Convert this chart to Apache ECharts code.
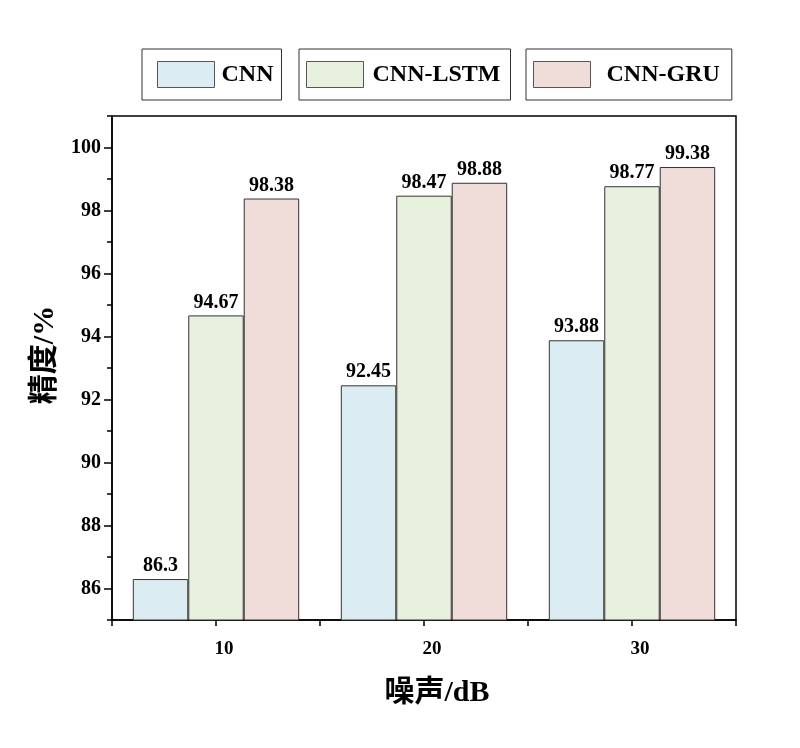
<!DOCTYPE html>
<html>
<head>
<meta charset="utf-8">
<script src="https://cdn.jsdelivr.net/npm/echarts@6/dist/echarts.min.js"></script>
<style>
  html, body { margin: 0; padding: 0; background: #fff; }
  #chart { width: 800px; height: 748px; }
</style>
</head>
<body>
<div id="chart"></div>
<script>
const categories = ['10', '20', '30']
const seriesNames = ['CNN', 'CNN-LSTM', 'CNN-GRU']
const cnn = [86.3, 92.45, 93.88]
const cnnLstm = [94.67, 98.47, 98.77]
const cnnGru = [98.38, 98.88, 99.38]
const yTicks = [86, 88, 90, 92, 94, 96, 98, 100]

const font = "'Liberation Serif', 'Noto Sans CJK SC', serif"
const colors = ['#dbedf3', '#e8f0de', '#f0dcd9']

const chart = echarts.init(document.getElementById('chart'))

function legendBox(name, left, pad, textPad) {
  return {
    data: [name],
    left: left,
    top: 49,
    icon: 'rect',
    itemWidth: 57,
    itemHeight: 26,
    itemGap: 0,
    padding: pad,
    borderColor: '#333',
    borderWidth: 1,
    borderRadius: 0,
    selectedMode: false,
    itemStyle: { borderColor: '#555', borderWidth: 1 },
    textStyle: {
      fontFamily: font,
      fontSize: 24,
      fontWeight: 'bold',
      color: '#000',
      padding: [0, 0, 0, textPad]
    }
  }
}

function barSeries(name, data, idx) {
  return {
    name: name,
    type: 'bar',
    data: data,
    xAxisIndex: 0,
    yAxisIndex: 0,
    barGap: '0%',
    barCategoryGap: '20%',
    itemStyle: {
      color: colors[idx],
      borderColor: '#333',
      borderWidth: 1
    },
    label: {
      show: true,
      position: 'top',
      distance: 3,
      fontFamily: font,
      fontSize: 20,
      fontWeight: 'bold',
      color: '#000'
    }
  }
}

chart.setOption({
  animation: false,
  color: colors,
  legend: [
    legendBox('CNN', 142, [12, 8, 12, 15], 2),
    legendBox('CNN-LSTM', 299, [12, 10, 12, 7], 4),
    legendBox('CNN-GRU', 526, [12, 12, 12, 7], 11)
  ],
  grid: {
    left: 112,
    right: 64,
    top: 116,
    bottom: 128,
    show: true,
    borderColor: '#000',
    borderWidth: 1.5
  },
  xAxis: [
    {
      type: 'category',
      data: categories,
      name: '噪声/dB',
      nameLocation: 'middle',
      nameGap: 58,
      nameTextStyle: {
        fontFamily: font,
        fontSize: 30,
        fontWeight: 'bold',
        color: '#000',
        padding: [0, 0, 0, 26]
      },
      axisLine: { lineStyle: { color: '#000', width: 1.5 } },
      axisTick: { show: true, inside: false, length: 6, lineStyle: { color: '#000', width: 1.5 } },
      axisLabel: {
        margin: 20,
        fontFamily: font,
        fontSize: 19,
        fontWeight: 'bold',
        color: '#000',
        padding: [0, 0, 0, 16]
      }
    },
    {
      type: 'category',
      data: categories,
      position: 'bottom',
      axisLine: { show: false },
      axisTick: { show: true, alignWithLabel: true, length: 6, lineStyle: { color: '#000', width: 1.5 } },
      axisLabel: { show: false }
    }
  ],
  yAxis: [
    {
      type: 'value',
      min: 85,
      max: 101,
      name: '精度/%',
      nameLocation: 'middle',
      nameGap: 44,
      nameTextStyle: {
        fontFamily: font,
        fontSize: 30,
        fontWeight: 'bold',
        color: '#000',
        padding: [0, 0, 0, 26]
      },
      splitLine: { show: false },
      axisLine: { show: true, lineStyle: { color: '#000', width: 1.5 } },
      axisTick: { show: true, length: 8, customValues: yTicks, lineStyle: { color: '#000', width: 1.5 } },
      axisLabel: {
        customValues: yTicks,
        margin: 11,
        fontFamily: font,
        fontSize: 20,
        fontWeight: 'bold',
        color: '#000'
      }
    },
    {
      type: 'value',
      min: 85,
      max: 101,
      interval: 1,
      position: 'left',
      splitLine: { show: false },
      axisLine: { show: false },
      axisTick: { show: true, length: 5, lineStyle: { color: '#000', width: 1.5 } },
      axisLabel: { show: false }
    }
  ],
  series: [
    barSeries(seriesNames[0], cnn, 0),
    barSeries(seriesNames[1], cnnLstm, 1),
    barSeries(seriesNames[2], cnnGru, 2)
  ]
})
</script>
</body>
</html>
